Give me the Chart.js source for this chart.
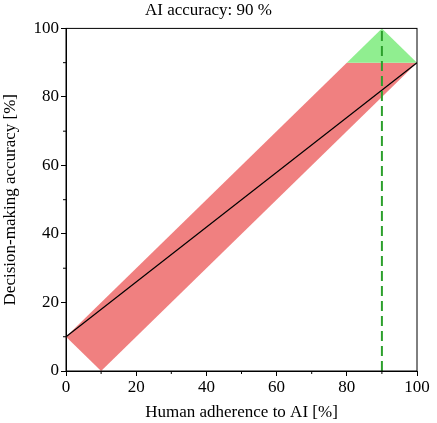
<!DOCTYPE html>
<html>
<head>
<meta charset="utf-8">
<script src="https://cdn.jsdelivr.net/npm/chart.js@4/dist/chart.umd.min.js"></script>
<style>
  html, body { margin: 0; padding: 0; background: #fff; }
  #wrap { width: 437px; height: 423px; }
</style>
</head>
<body>
<div id="wrap"><canvas id="chart"></canvas></div>
<script>
// data
var aiAccuracy = 90;
var redBand = [{x: 0, y: 10}, {x: 10, y: 0}, {x: 100, y: 90}, {x: 80, y: 90}, {x: 0, y: 10}];
var greenTri = [{x: 80, y: 90}, {x: 90, y: 100}, {x: 100, y: 90}, {x: 80, y: 90}];
var meanLine = [{x: 0, y: 10}, {x: 100, y: 90}];
var aiLine = [{x: aiAccuracy, y: 0}, {x: aiAccuracy, y: 100}];
var majorTicks = [0, 20, 40, 60, 80, 100];
var minorTicks = [10, 30, 50, 70, 90];

var font = {family: "'Liberation Serif', 'Times New Roman', serif", size: 17, weight: 'normal'};

// box + minor ticks
var frame = {
  id: 'frame',
  afterDraw: function(chart) {
    var c = chart.ctx, a = chart.chartArea;
    var xs = chart.scales.x, ys = chart.scales.y;
    c.save();
    c.strokeStyle = '#000';
    c.lineWidth = 1;
    c.strokeRect(a.left, a.top, a.right - a.left, a.bottom - a.top);
    c.beginPath();
    minorTicks.forEach(function(v) {
      var px = xs.getPixelForValue(v);
      c.moveTo(px, a.bottom); c.lineTo(px, a.bottom + 3);
      var py = ys.getPixelForValue(v);
      c.moveTo(a.left, py); c.lineTo(a.left - 3, py);
    });
    c.stroke();
    c.restore();
  }
};

new Chart(document.getElementById('chart'), {
  type: 'scatter',
  data: {
    datasets: [
      {data: redBand, order: 4, showLine: true, fill: 'shape', backgroundColor: '#f08080',
       borderWidth: 0, borderColor: 'rgba(0,0,0,0)', pointRadius: 0, tension: 0},
      {data: greenTri, order: 3, showLine: true, fill: 'shape', backgroundColor: '#90ee90',
       borderWidth: 0, borderColor: 'rgba(0,0,0,0)', pointRadius: 0, tension: 0},
      {data: meanLine, order: 2, showLine: true, borderColor: '#000', borderWidth: 1.3,
       pointRadius: 0, fill: false},
      {data: aiLine, order: 1, showLine: true, borderColor: '#2ca02c', borderWidth: 2,
       borderDash: [10, 5], pointRadius: 0, fill: false}
    ]
  },
  options: {
    responsive: true,
    maintainAspectRatio: false,
    animation: false,
    layout: {padding: {top: 0, right: 20, bottom: 0, left: 0}},
    plugins: {
      legend: {display: false},
      tooltip: {enabled: false},
      title: {display: true, text: 'AI accuracy: ' + aiAccuracy + ' %', color: '#000',
              font: font, padding: {top: 0, bottom: 8}}
    },
    scales: {
      x: {
        type: 'linear', min: 0, max: 100,
        afterBuildTicks: function(s) { s.ticks = majorTicks.map(function(v) { return {value: v}; }); },
        ticks: {color: '#000', font: font, padding: 1, maxRotation: 0},
        grid: {display: true, drawOnChartArea: false, drawTicks: true, tickLength: 5, color: '#000'},
        border: {display: true, color: '#000'},
        title: {display: true, text: 'Human adherence to AI [%]', color: '#000', font: font, padding: {top: 0, bottom: 0}},
        afterFit: function(s) { s.height = 52; }
      },
      y: {
        type: 'linear', min: 0, max: 100,
        afterBuildTicks: function(s) { s.ticks = majorTicks.map(function(v) { return {value: v}; }); },
        ticks: {color: '#000', font: font, padding: 2},
        grid: {display: true, drawOnChartArea: false, drawTicks: true, tickLength: 5, color: '#000'},
        border: {display: true, color: '#000'},
        title: {display: true, text: 'Decision-making accuracy [%]', color: '#000', font: font, padding: {top: 0, bottom: 0}},
        afterFit: function(s) { s.width = 66; }
      }
    }
  },
  plugins: [frame]
});
</script>
</body>
</html>
